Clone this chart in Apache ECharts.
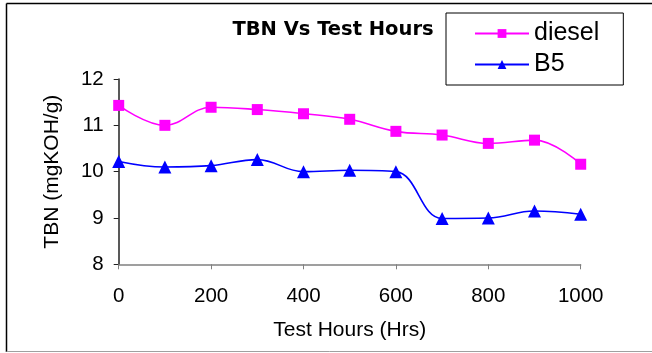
<!DOCTYPE html>
<html>
<head>
<meta charset="utf-8">
<script src="https://cdn.jsdelivr.net/npm/echarts@6/dist/echarts.min.js"></script>
<style>html,body{margin:0;padding:0;background:#fff}#c{width:652px;height:353px}</style>
</head>
<body>
<div id="c"></div>
<script>
var hours = [0, 100, 200, 300, 400, 500, 600, 700, 800, 900, 1000];
var diesel = [11.43, 11.0, 11.39, 11.34, 11.25, 11.13, 10.87, 10.79, 10.61, 10.68, 10.16];
var b5 = [10.22, 10.1, 10.13, 10.26, 10.0, 10.03, 10.0, 8.99, 9.0, 9.15, 9.08];
var titleText = 'TBN Vs Test Hours';
var xName = 'Test Hours (Hrs)';
var yName = 'TBN (mgKOH/g)';

function pairs(xs, ys) { return xs.map(function (x, i) { return [x, ys[i]]; }); }

var chart = echarts.init(document.getElementById('c'), null, {renderer: 'canvas'});
var font = 'Liberation Sans, Arial, sans-serif';
chart.setOption({
  animation: false,
  backgroundColor: '#fff',
  grid: {left: 118.7, right: 71.3, top: 79, bottom: 88.7},
  graphic: [
    {type: 'line', shape: {x1: 6.5, y1: 3.5, x2: 652, y2: 3.5}, style: {stroke: '#000', lineWidth: 1.5}},
    {type: 'line', shape: {x1: 6.5, y1: 3.5, x2: 6.5, y2: 352}, style: {stroke: '#000', lineWidth: 1.5}},
    {type: 'line', shape: {x1: 6.5, y1: 351.5, x2: 652, y2: 351.5}, style: {stroke: '#a0a0a0', lineWidth: 1}},
    {type: 'text', x: 333, y: 20, style: {text: titleText, fill: '#000', font: 'bold 19.5px "DejaVu Sans", sans-serif', textAlign: 'center', textVerticalAlign: 'top'}}
  ],
  legend: {
    orient: 'vertical',
    left: 446, top: 13,
    padding: [8, 24, 8, 28],
    borderColor: '#000', borderWidth: 1,
    itemWidth: 54, itemHeight: 11, itemGap: 6,
    textStyle: {fontFamily: font, fontSize: 25, color: '#000', lineHeight: 24},
    data: ['diesel', 'B5']
  },
  xAxis: {
    type: 'value', min: 0, max: 1000, interval: 200,
    name: xName, nameLocation: 'middle', nameGap: 55,
    nameTextStyle: {fontFamily: font, fontSize: 21, color: '#000'},
    axisLine: {show: true, lineStyle: {color: '#808080', width: 1.5}},
    axisTick: {show: true, length: 5, lineStyle: {color: '#808080', width: 1}},
    axisLabel: {fontFamily: font, fontSize: 20.5, color: '#000', margin: 22, formatter: function (v) { return String(v); }},
    splitLine: {show: false}
  },
  yAxis: {
    type: 'value', min: 8, max: 12, interval: 1,
    name: yName, nameLocation: 'middle', nameGap: 56,
    nameTextStyle: {fontFamily: font, fontSize: 21, color: '#000'},
    axisLine: {show: true, lineStyle: {color: '#222', width: 1.5}},
    axisTick: {show: true, length: 5, lineStyle: {color: '#222', width: 1}},
    axisLabel: {fontFamily: font, fontSize: 20.5, color: '#000', margin: 15},
    splitLine: {show: false}
  },
  series: [
    {
      name: 'diesel', type: 'line', data: pairs(hours, diesel),
      smooth: 0.4, symbol: 'rect', symbolSize: 11, showAllSymbol: true,
      lineStyle: {color: '#ff00ff', width: 1.6},
      itemStyle: {color: '#ff00ff'}
    },
    {
      name: 'B5', type: 'line', data: pairs(hours, b5),
      smooth: 0.4, symbol: 'triangle', symbolSize: 13, showAllSymbol: true,
      lineStyle: {color: '#0000ff', width: 1.6},
      itemStyle: {color: '#0000ff'}
    }
  ]
});
</script>
</body>
</html>
